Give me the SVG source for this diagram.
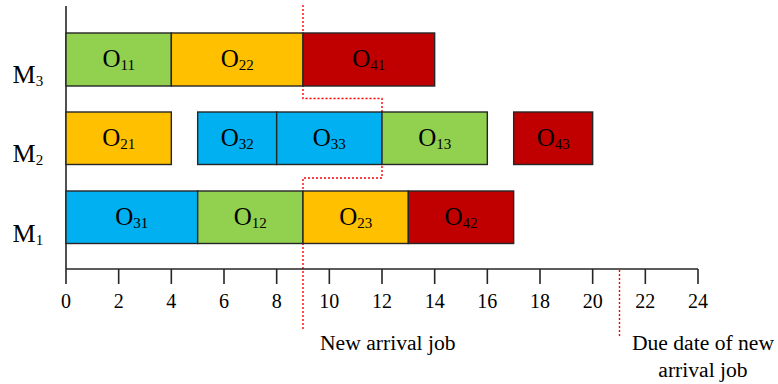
<svg xmlns="http://www.w3.org/2000/svg" width="778" height="384" viewBox="0 0 778 384">
<style>
text{font-family:"Liberation Serif","Times New Roman",serif;fill:#000}
.bar{stroke:#262626;stroke-width:1.4}
.g{fill:#92D050}.o{fill:#FFC000}.r{fill:#C00000}.b{fill:#00B0F0}
.lbl{font-size:25px;text-anchor:middle}
.sub{font-size:15px}
.m{font-size:26px}
.tick{font-size:20px;text-anchor:middle}
.note{font-size:21.6px}
.axis{stroke:#262626;stroke-width:1.6;fill:none}
.dash{stroke:#FF0000;stroke-width:1.4;stroke-dasharray:2 2;fill:none}
</style>
<rect width="778" height="384" fill="#fff"/>
<g id="connectors">
<path class="dash" d="M303,5 V98.5 H382 V178 H303 V331"/>
<path class="dash" d="M619.5,270 V336"/>
</g>
<g id="axes">
<line class="axis" x1="66" y1="6" x2="66" y2="284"/>
<line class="axis" x1="66" y1="269" x2="698" y2="269"/>
<path class="axis" d="M118.67,269V284M171.33,269V284M224,269V284M276.67,269V284M329.33,269V284M382,269V284M434.67,269V284M487.33,269V284M540,269V284M592.67,269V284M645.33,269V284M698,269V284"/>
<g class="tick">
<text x="66" y="307.5">0</text>
<text x="118.67" y="307.5">2</text>
<text x="171.33" y="307.5">4</text>
<text x="224" y="307.5">6</text>
<text x="276.67" y="307.5">8</text>
<text x="329.33" y="307.5">10</text>
<text x="382" y="307.5">12</text>
<text x="434.67" y="307.5">14</text>
<text x="487.33" y="307.5">16</text>
<text x="540" y="307.5">18</text>
<text x="592.67" y="307.5">20</text>
<text x="645.33" y="307.5">22</text>
<text x="698" y="307.5">24</text>
</g>
</g>
<g id="M3-label"><text class="m" x="12.5" y="82.5">M<tspan class="sub" dy="3">3</tspan></text></g>
<g id="M2-label"><text class="m" x="12.5" y="162">M<tspan class="sub" dy="3">2</tspan></text></g>
<g id="M1-label"><text class="m" x="12.5" y="241.5">M<tspan class="sub" dy="3">1</tspan></text></g>

<g id="O11"><rect class="bar g" x="66" y="33" width="105.33" height="53"/><text class="lbl" x="118.67" y="67">O<tspan class="sub" dy="2.5">11</tspan></text></g>
<g id="O22"><rect class="bar o" x="171.33" y="33" width="131.67" height="53"/><text class="lbl" x="237.17" y="67">O<tspan class="sub" dy="2.5">22</tspan></text></g>
<g id="O41"><rect class="bar r" x="303" y="33" width="131.67" height="53"/><text class="lbl" x="368.83" y="67">O<tspan class="sub" dy="2.5">41</tspan></text></g>

<g id="O21"><rect class="bar o" x="66" y="112" width="105.33" height="52.5"/><text class="lbl" x="118.67" y="146">O<tspan class="sub" dy="2.5">21</tspan></text></g>
<g id="O32"><rect class="bar b" x="197.67" y="112" width="79" height="52.5"/><text class="lbl" x="237.17" y="146">O<tspan class="sub" dy="2.5">32</tspan></text></g>
<g id="O33"><rect class="bar b" x="276.67" y="112" width="105.33" height="52.5"/><text class="lbl" x="329.33" y="146">O<tspan class="sub" dy="2.5">33</tspan></text></g>
<g id="O13"><rect class="bar g" x="382" y="112" width="105.33" height="52.5"/><text class="lbl" x="434.67" y="146">O<tspan class="sub" dy="2.5">13</tspan></text></g>
<g id="O43"><rect class="bar r" x="513.67" y="112" width="79" height="52.5"/><text class="lbl" x="553.17" y="146">O<tspan class="sub" dy="2.5">43</tspan></text></g>

<g id="O31"><rect class="bar b" x="66" y="191" width="131.67" height="52.5"/><text class="lbl" x="131.83" y="225">O<tspan class="sub" dy="2.5">31</tspan></text></g>
<g id="O12"><rect class="bar g" x="197.67" y="191" width="105.33" height="52.5"/><text class="lbl" x="250.33" y="225">O<tspan class="sub" dy="2.5">12</tspan></text></g>
<g id="O23"><rect class="bar o" x="303" y="191" width="105.33" height="52.5"/><text class="lbl" x="355.67" y="225">O<tspan class="sub" dy="2.5">23</tspan></text></g>
<g id="O42"><rect class="bar r" x="408.33" y="191" width="105.33" height="52.5"/><text class="lbl" x="461" y="225">O<tspan class="sub" dy="2.5">42</tspan></text></g>

<g id="notes">
<text class="note" x="320" y="350">New arrival job</text>
<text class="note" x="703" y="350" text-anchor="middle">Due date of new</text>
<text class="note" x="703" y="376.5" text-anchor="middle">arrival job</text>
</g>
</svg>
